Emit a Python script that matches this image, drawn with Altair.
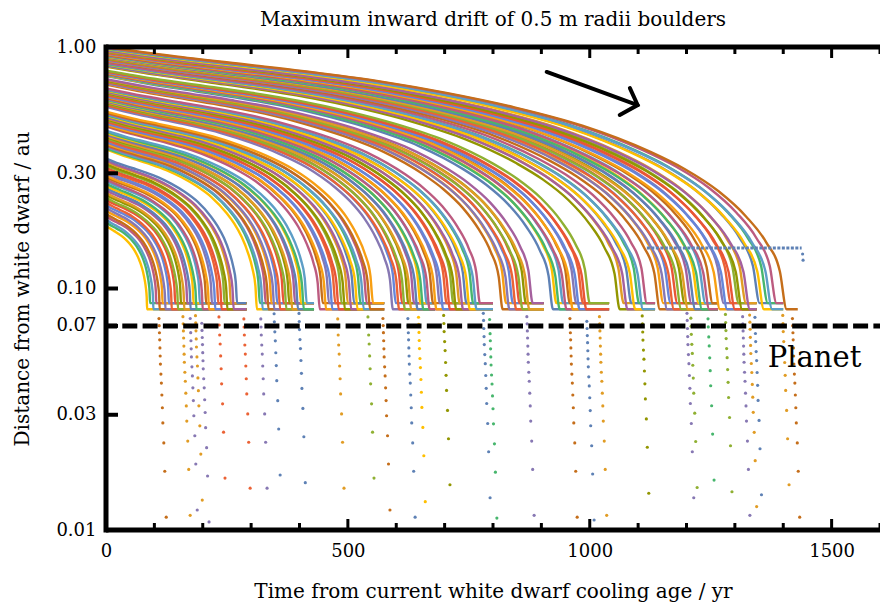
import altair as alt
import pandas as pd

PALETTE = ["#5E81B5", "#E19C24", "#8FB032", "#EB6235", "#8778B3", "#C56E1A", "#5D9EC7",
           "#FFBF00", "#A5609D", "#929600", "#E95536", "#6685D9", "#F89F13", "#BC5B80", "#47B66D"]

# starting distance (au) at t=0 and time (yr) when each boulder reaches the inner edge
start_au = [
    # group 1 (30)
    0.182, 0.188, 0.193, 0.199, 0.204, 0.210, 0.216, 0.221, 0.227, 0.233, 0.238, 0.244, 0.249, 0.255, 0.261,
    0.266, 0.272, 0.278, 0.283, 0.289, 0.294, 0.300, 0.306, 0.311, 0.317, 0.323, 0.328, 0.334, 0.339, 0.345,
    # group 2 (18)
    0.377, 0.381, 0.386, 0.390, 0.394, 0.398, 0.403, 0.407, 0.411, 0.416, 0.420, 0.424, 0.428, 0.433, 0.437,
    0.441, 0.446, 0.450,
    # group 3 (18)
    0.469, 0.473, 0.477, 0.482, 0.486, 0.490, 0.494, 0.498, 0.502, 0.507, 0.511, 0.515, 0.519, 0.523, 0.527,
    0.532, 0.536, 0.540,
    # group 4 (12)
    0.566, 0.570, 0.574, 0.578, 0.582, 0.586, 0.590, 0.594, 0.597, 0.601, 0.605, 0.609,
    # group 5 (16)
    0.612, 0.616, 0.620, 0.624, 0.628, 0.632, 0.637, 0.641, 0.645, 0.649, 0.653, 0.657, 0.661, 0.665, 0.669, 0.673,
    # group 6 (10)
    0.700, 0.704, 0.708, 0.712, 0.716, 0.719, 0.723, 0.727, 0.731, 0.735,
    # group 7 (12)
    0.758, 0.762, 0.765, 0.769, 0.773, 0.776, 0.780, 0.784, 0.787, 0.791, 0.794, 0.798,
    # group 8 (8)
    0.831, 0.835, 0.839, 0.843, 0.848, 0.852, 0.856, 0.860,
    # group 9 (16)
    0.874, 0.878, 0.881, 0.885, 0.889, 0.892, 0.896, 0.900, 0.903, 0.907, 0.911, 0.914, 0.918, 0.922, 0.925, 0.929,
    # group 10 (9)
    0.936, 0.940, 0.943, 0.947, 0.951, 0.955, 0.959, 0.962, 0.966,
    # group 11 (5)
    0.976, 0.980, 0.985, 0.989, 0.993,
    # group 12 (1)
    1.000,
]
end_yr = [
    85, 91, 98, 104, 111, 117, 123, 130, 136, 143, 149, 155, 162, 168, 175,
    181, 187, 194, 200, 207, 213, 219, 226, 232, 239, 245, 251, 258, 264, 271,
    312, 318, 324, 330, 336, 342, 348, 354, 360, 367, 373, 379, 385, 391, 397,
    403, 409, 415,
    442, 448, 455, 461, 468, 474, 481, 487, 494, 500, 507, 513, 520, 526, 533,
    539, 546, 552,
    593, 599, 606, 612, 618, 625, 631, 637, 644, 650, 656, 663,
    669, 676, 683, 690, 697, 704, 711, 718, 724, 731, 738, 745, 752, 759, 766, 773,
    820, 827, 834, 841, 848, 855, 861, 868, 875, 882,
    924, 931, 938, 945, 952, 959, 965, 972, 979, 986, 993, 1000,
    1062, 1070, 1078, 1086, 1094, 1102, 1110, 1118,
    1145, 1152, 1160, 1167, 1174, 1181, 1189, 1196, 1203, 1210, 1218, 1225, 1232, 1239, 1247, 1254,
    1269, 1277, 1284, 1292, 1300, 1308, 1315, 1323, 1331,
    1351, 1360, 1368, 1377, 1386,
    1407,
]
group_sizes = [30, 18, 18, 12, 16, 10, 12, 8, 16, 9, 5, 1]
flat_end_yr = [290, 430, 575, 680, 800, 905, 1040, 1135, 1265, 1345, 1400, 1430]
flat_levels = [0.082, 0.087]

# normalised drift profile read from the outermost track (fraction of time, fraction of log-distance)
profile_frac = [0, 0.1, 0.2, 0.3, 0.4, 0.5, 0.6, 0.7, 0.8, 0.85, 0.9, 0.94, 0.97, 0.99, 1.0]
profile_g = [1, 0.965, 0.935, 0.905, 0.87, 0.825, 0.77, 0.70, 0.60, 0.535, 0.45, 0.355, 0.255, 0.145, 0]

# boulders falling past the planet: column start time, colour index, lowest point (au)
drop_yr = [109.5, 159, 173.6, 184, 198, 231, 283, 318, 345, 397, 477, 539, 572, 624, 645, 696,
           779, 793, 870, 959, 994, 1020, 1107, 1200, 1207, 1242, 1279, 1316, 1330, 1340, 1397, 1419]
drop_color = [5, 1, 4, 1, 4, 3, 3, 4, 0, 0, 1, 2, 5, 0, 7, 9,
              0, 14, 4, 5, 0, 1, 9, 4, 2, 14, 2, 4, 1, 0, 1, 5]
drop_bottom = [0.0113, 0.0115, 0.0121, 0.0133, 0.0108, 0.0164, 0.0149, 0.0149, 0.0169, 0.0157, 0.0149,
               0.0164, 0.0121, 0.0113, 0.0131, 0.0154, 0.0136, 0.0112, 0.0115, 0.0113, 0.0110, 0.0115,
               0.0142, 0.0136, 0.0150, 0.0161, 0.0144, 0.0115, 0.0125, 0.0140, 0.0154, 0.0113]
# successive distance ratios between dots, from the lowest dot upwards, and their drift in time
drop_ratio = [1.55, 1.31, 1.21, 1.155, 1.13, 1.12, 1.09, 1.10, 1.08, 1.08, 1.08, 1.07, 1.07, 1.07]
drop_drift = [15, 12, 10, 8, 7, 6, 5, 4, 3, 2.5, 2, 1.5, 1, 0.5, 0]

# stalled blue boulder
stall_yr = [1118, 1438]
stall_au = [0.147, 0.147]
stall_tail_yr = [1440, 1441]
stall_tail_au = [0.139, 0.131]

planet_au = [0.07]
planet_label_yr = [1368]
planet_label_au = [0.0471]

arrow_yr = [911, 1099]
arrow_au = [0.788, 0.575]
head_yr = [1083, 1099, 1062]
head_au = [0.676, 0.575, 0.523]

x_major = [0, 500, 1000, 1500]
x_minor = [100, 200, 300, 400, 600, 700, 800, 900, 1100, 1200, 1300, 1400, 1600]
y_ticks = [0.03, 0.07, 0.1, 0.3]
y_labels = [0.01, 0.03, 0.07, 0.1, 0.3, 1.0]

W, H = 774, 483

# ---- tables
rows = []
idx = 0
for gi, n in enumerate(group_sizes):
    for k in range(n):
        a0, T = start_au[idx], end_yr[idx]
        af = flat_levels[idx % 2]
        c = str((idx * 7 + 7) % 15)
        for j, (f, g) in enumerate(zip(profile_frac, profile_g)):
            rows.append(dict(curve=idx, t=f * T, a=af * (a0 / af) ** g, o=j, c=c))
        rows.append(dict(curve=idx, t=flat_end_yr[gi], a=af, o=len(profile_frac), c=c))
        idx += 1
curves = pd.DataFrame(rows)

drows = []
for t0, ci, b in zip(drop_yr, drop_color, drop_bottom):
    lev = b
    drows.append(dict(t=t0 + drop_drift[0], a=lev, c=str(ci)))
    for r, dr in zip(drop_ratio, drop_drift[1:]):
        lev = lev * r
        if lev > 0.08:
            break
        drows.append(dict(t=t0 + dr, a=lev, c=str(ci)))
drops = pd.DataFrame(drows)

stall = pd.DataFrame({"t": stall_yr, "a": stall_au})
stall_tail = pd.DataFrame({"t": stall_tail_yr, "a": stall_tail_au})

xscale = alt.Scale(domain=[0, 1600], nice=False, zero=False)
yscale = alt.Scale(type="log", domain=[0.01, 1.0], nice=False)
xaxis = alt.Axis(values=x_major, format="d", ticks=False, domain=False, grid=False,
                 labelPadding=12, titlePadding=21, labelFlush=False, labelOverlap=False,
                 title="Time from current white dwarf cooling age / yr")
yaxis = alt.Axis(values=y_labels, format=".2f", ticks=False, domain=False, grid=False,
                 labelPadding=10, titlePadding=23, labelFlush=False, labelOverlap=False,
                 title="Distance from white dwarf / au")


def X(f="t"):
    return alt.X(f"{f}:Q", scale=xscale, axis=xaxis)


def Y(f="a"):
    return alt.Y(f"{f}:Q", scale=yscale, axis=yaxis)


cscale = alt.Scale(domain=[str(i) for i in range(15)], range=PALETTE)

lines = alt.Chart(curves).mark_line(strokeWidth=2.4, interpolate="monotone", clip=True).encode(
    x=X(), y=Y(), detail="curve:N", order="o:Q",
    color=alt.Color("c:N", scale=cscale, legend=None))

stall_line = alt.Chart(stall).mark_line(strokeWidth=3, color="#5E81B5", strokeDash=[3, 1.5]).encode(x=X(), y=Y())
stall_pts = alt.Chart(stall_tail).mark_circle(size=10, opacity=1, color="#5E81B5").encode(x=X(), y=Y())

drop_pts = alt.Chart(drops).mark_circle(size=10, opacity=1, clip=True).encode(
    x=X(), y=Y(), color=alt.Color("c:N", scale=cscale, legend=None))

planet = alt.Chart(pd.DataFrame({"a": planet_au})).mark_rule(
    strokeWidth=5, color="black", strokeDash=[15, 5.3], strokeDashOffset=4).encode(
    y=Y(), x=alt.value(0), x2=alt.value(W))

planet_txt = alt.Chart(pd.DataFrame({"t": planet_label_yr, "a": planet_label_au, "s": ["Planet"]})).mark_text(
    align="left", baseline="alphabetic", fontSize=29, font="DejaVu Serif", color="black").encode(
    x=X(), y=Y(), text="s:N")

arrow_df = pd.DataFrame({"t": arrow_yr + head_yr, "a": arrow_au + head_au,
                         "p": ["s", "s", "h", "h", "h"], "o": [0, 1, 0, 1, 2]})
arrow = alt.Chart(arrow_df).mark_line(strokeWidth=4, color="black", strokeCap="round", strokeJoin="miter").encode(
    x=X(), y=Y(), detail="p:N", order="o:Q")

yt = alt.Chart(pd.DataFrame({"a": y_ticks})).mark_rule(strokeWidth=4, color="black").encode(
    y=Y(), x=alt.value(0), x2=alt.value(12))
xmaj_b = alt.Chart(pd.DataFrame({"t": x_major})).mark_rule(strokeWidth=3, color="black").encode(
    x=X(), y=alt.value(H), y2=alt.value(H - 11))
xmin_b = alt.Chart(pd.DataFrame({"t": x_minor})).mark_rule(strokeWidth=3, color="black").encode(
    x=X(), y=alt.value(H), y2=alt.value(H - 7))
xmaj_t = alt.Chart(pd.DataFrame({"t": x_major})).mark_rule(strokeWidth=3, color="black").encode(
    x=X(), y=alt.value(0), y2=alt.value(11))
xmin_t = alt.Chart(pd.DataFrame({"t": x_minor})).mark_rule(strokeWidth=3, color="black").encode(
    x=X(), y=alt.value(0), y2=alt.value(7))

frame_df = pd.DataFrame({"k": [0]})
f_left = alt.Chart(frame_df).mark_rule(strokeWidth=5, color="black").encode(
    x=alt.value(0), y=alt.value(-2.5), y2=alt.value(H + 2.5))
f_top = alt.Chart(frame_df).mark_rule(strokeWidth=5, color="black").encode(
    y=alt.value(0), x=alt.value(0), x2=alt.value(W))
f_bot = alt.Chart(frame_df).mark_rule(strokeWidth=5, color="black").encode(
    y=alt.value(H), x=alt.value(0), x2=alt.value(W))

chart = alt.layer(
    lines, stall_line, stall_pts, drop_pts, planet, planet_txt, arrow,
    yt, xmaj_b, xmin_b, xmaj_t, xmin_t, f_left, f_top, f_bot
).properties(
    width=W, height=H,
    autosize=alt.AutoSizeParams(type="none"),
    padding={"left": 106, "top": 47, "right": 0, "bottom": 77},
    title=alt.TitleParams(text="Maximum inward drift of 0.5 m radii boulders", font="DejaVu Serif",
                          fontSize=20, fontWeight="normal", color="black", offset=8, anchor="middle"),
).configure_view(stroke=None).configure_axis(
    labelFont="DejaVu Serif", titleFont="DejaVu Serif", labelFontSize=18, titleFontSize=20,
    titleFontWeight="normal", labelColor="black", titleColor="black"
)

chart.save("out.html", embed_options={"renderer": "svg", "actions": False})
